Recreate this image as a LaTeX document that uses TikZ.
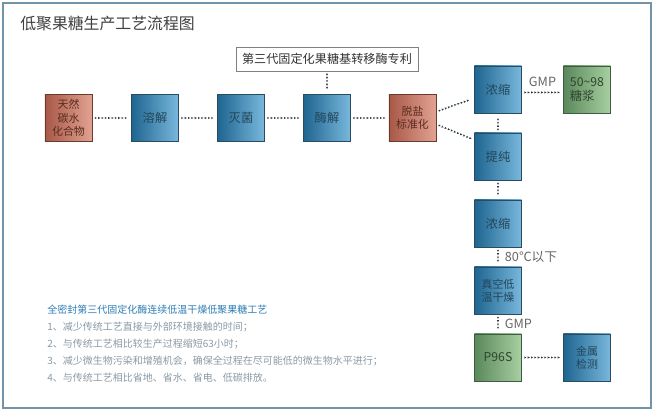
\documentclass[tikz,border=0pt]{standalone}
\usepackage{fontspec}
\setmainfont{Noto Sans CJK SC}
\usetikzlibrary{decorations.markings}

\definecolor{frameblue}{HTML}{7393A8}
\definecolor{blueL}{HTML}{1E6590}
\definecolor{blueR}{HTML}{7AB8DD}
\definecolor{blueedge}{HTML}{2A4C60}
\definecolor{bluetext}{HTML}{22465A}
\definecolor{redL}{HTML}{A85846}
\definecolor{redR}{HTML}{E2A292}
\definecolor{rededge}{HTML}{6A3A2E}
\definecolor{redtext}{HTML}{5A2C22}
\definecolor{greenL}{HTML}{5A885B}
\definecolor{greenR}{HTML}{A8D0A2}
\definecolor{greenedge}{HTML}{3E5C40}
\definecolor{greentext}{HTML}{2E4630}
\definecolor{dotcol}{HTML}{2C3A44}
\definecolor{notegray}{HTML}{8A99A4}
\definecolor{noteblue}{HTML}{2E7DB4}

\begin{document}
\begin{tikzpicture}[x=0.75pt, y=-0.75pt,
  box/.style={draw=blueedge, left color=blueL, right color=blueR, minimum width=35.5pt, minimum height=35.5pt, inner sep=1pt, align=center, text=bluetext, font=\fontsize{9.2pt}{10pt}\selectfont},
  smallbox/.style={box, font=\fontsize{8.2pt}{10pt}\selectfont},
  redbox/.style={smallbox, draw=rededge, left color=redL, right color=redR, text=redtext},
  greenbox/.style={box, draw=greenedge, left color=greenL, right color=greenR, text=greentext},
  flow/.style={decorate, decoration={markings, mark=between positions 2.6pt and -2.6pt step 2.5pt with {\fill[dotcol] (-0.8pt,-0.8pt) -- (0.8pt,0pt) -- (-0.8pt,0.8pt) -- cycle;}}},
  flowlabel/.style={text=black!60, font=\fontsize{9.5pt}{10pt}\selectfont, inner sep=1pt},
  note/.style={anchor=west, inner sep=0pt, text=notegray, font=\fontsize{7.5pt}{9pt}\selectfont},
]

\useasboundingbox (0,0) rectangle (655,413);
\draw[frameblue, line width=1.1pt] (3,3) rectangle (651,408);

\node[anchor=west, inner sep=0pt, text=black!75, font=\fontsize{11.9pt}{13pt}\selectfont] (title) at (20,24) {低聚果糖生产工艺流程图};

\node[draw=black!50, fill=white, minimum width=136.5pt, minimum height=18pt, inner sep=1pt, text=black!80, font=\fontsize{9.1pt}{10pt}\selectfont] (patent) at (327,59) {第三代固定化果糖基转移酶专利};

% main line
\node[redbox] (raw) at (68.5,118) {天然\\碳水\\化合物};
\node[box] (dissolve) at (155,118) {溶解};
\node[box] (sterilize) at (241,118) {灭菌};
\node[box] (enzyme) at (327,118) {酶解};
\node[redbox] (desalt) at (412.5,118) {脱盐\\标准化};

\path[flow] (raw) -- (dissolve);
\path[flow] (dissolve) -- (sterilize);
\path[flow] (sterilize) -- (enzyme);
\path[flow] (enzyme) -- (desalt);
\path[flow] (patent) -- (enzyme);

% right column
\node[box] (conc1) at (498,89.5) {浓缩};
\node[greenbox, align=left] (syrup) at (587,89.5) {50\textasciitilde98\\糖浆};
\node[box] (purify) at (498,156.5) {提纯};
\node[box] (conc2) at (498,223.5) {浓缩};
\node[smallbox] (dry) at (498,290.5) {真空低\\温干燥};
\node[greenbox] (p96s) at (498,357.5) {P96S};
\node[smallbox] (metal) at (587,357.5) {金属\\检测};

\path[flow] (desalt.15) -- (conc1.200);
\path[flow] (desalt.-15) -- (purify.145);
\path[flow] (conc1.-7) -- (syrup.187) node[flowlabel, midway, above=3pt] (gmp1) {GMP};
\path[flow] (purify) -- (conc1);
\path[flow] (purify) -- (conc2);
\path[flow] (conc2) -- (dry) node[flowlabel, midway, right=4pt] (temp) {80℃以下};
\path[flow] (dry) -- (p96s) node[flowlabel, midway, right=4pt] (gmp2) {GMP};
\path[flow] (p96s) -- (metal);

% notes
\node[note, text=noteblue] (notehead) at (47,310) {全密封第三代固定化酶连续低温干燥低聚果糖工艺};
\node[note] (note1) at (47,327) {1、减少传统工艺直接与外部环境接触的时间；};
\node[note] (note2) at (47,344) {2、与传统工艺相比较生产过程缩短63小时；};
\node[note] (note3) at (47,361) {3、减少微生物污染和增殖机会，确保全过程在尽可能低的微生物水平进行；};
\node[note] (note4) at (47,378) {4、与传统工艺相比省地、省水、省电、低碳排放。};
\end{tikzpicture}
\end{document}
